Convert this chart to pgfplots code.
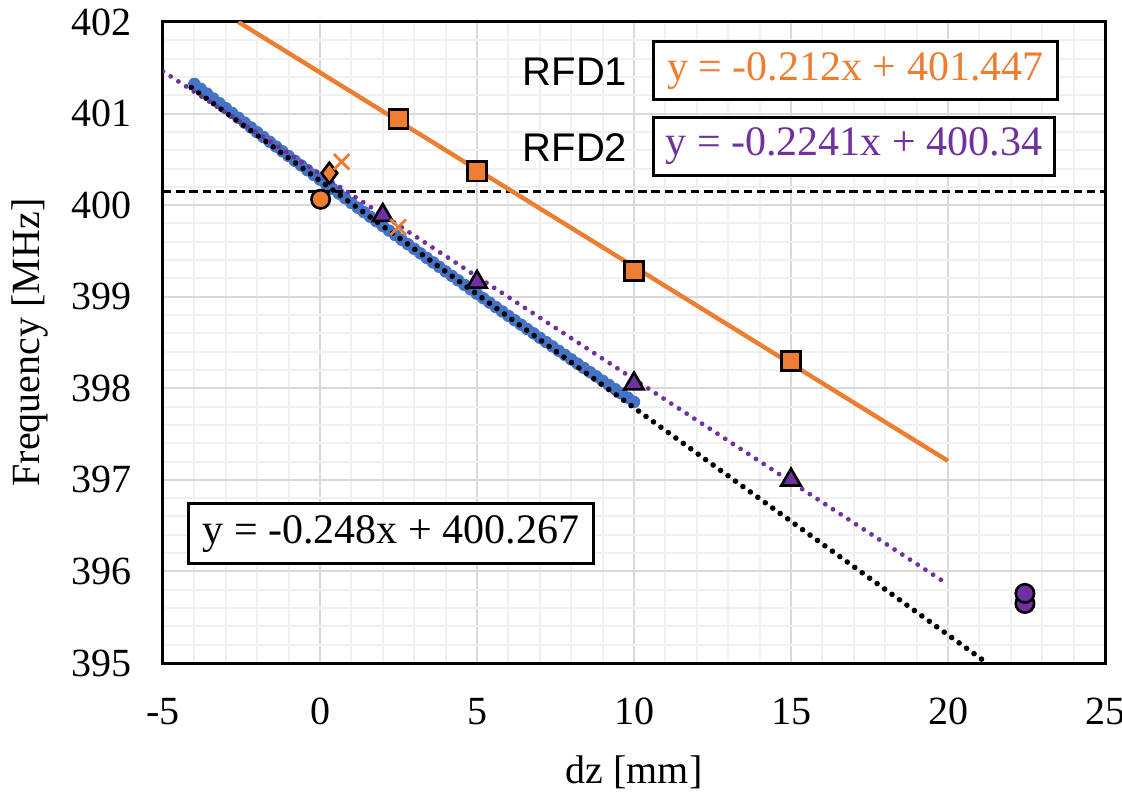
\documentclass[border=0pt]{standalone}
\usepackage{fontspec}
\setmainfont{Liberation Serif}
\newfontfamily\arial{Liberation Sans}
\usepackage{pgfplots}
\pgfplotsset{compat=1.18}
\definecolor{exorange}{HTML}{ED7D31}
\definecolor{expurple}{HTML}{7030A0}
\definecolor{exblue}{HTML}{4472C4}
\definecolor{majgrid}{HTML}{D9D9D9}
\definecolor{mingrid}{HTML}{F0F0F0}

\begin{document}
\begin{tikzpicture}
\begin{axis}[
    at={(0,0)}, anchor=south west,
    scale only axis,
    width=471pt,
    height=320.5pt,
    xmin=-5, xmax=25,
    ymin=395, ymax=402,
    xtick={-5,0,...,25},
    ytick={395,...,402},
    minor x tick num=4,
    minor y tick num=4,
    grid=both,
    major grid style={majgrid, line width=1pt},
    minor grid style={mingrid, line width=1pt},
    axis line style={black, line width=1.5pt},
    major tick length=0pt,
    minor tick length=0pt,
    clip marker paths=true,
    /pgf/number format/assume math mode=true,
    tick label style={font=\fontsize{20}{24}\selectfont},
    yticklabel style={xshift=-12pt},
    xticklabel style={yshift=-14pt},
    xlabel={dz [mm]},
    ylabel={Frequency [MHz]},
    label style={font=\fontsize{20}{24}\selectfont},
    xlabel style={at={(axis description cs:0.5,-0.17)}, anchor=center},
    ylabel style={at={(axis description cs:-0.141,0.5)}, anchor=center},
]

% measured sweep (blue)
\addplot[only marks, mark=*, mark size=2.9pt, color=exblue, mark options={draw=exblue, fill=exblue}]
coordinates {
    (-4.0,401.324) (-3.8,401.270) (-3.6,401.218) (-3.4,401.164)
    (-3.2,401.112) (-3.0,401.059) (-2.8,401.006) (-2.6,400.954)
    (-2.4,400.901) (-2.2,400.849) (-2.0,400.796) (-1.8,400.744)
    (-1.6,400.692) (-1.4,400.640) (-1.2,400.588) (-1.0,400.536)
    (-0.8,400.484) (-0.6,400.433) (-0.4,400.381) (-0.2,400.331)
    (0.0,400.279) (0.2,400.227) (0.4,400.177) (0.6,400.126)
    (0.8,400.075) (1.0,400.024) (1.2,399.973) (1.4,399.923)
    (1.6,399.873) (1.8,399.823) (2.0,399.772) (2.2,399.722)
    (2.4,399.672) (2.6,399.622) (2.8,399.573) (3.0,399.523)
    (3.2,399.473) (3.4,399.424) (3.6,399.375) (3.8,399.326)
    (4.0,399.276) (4.2,399.227) (4.4,399.179) (4.6,399.129)
    (4.8,399.081) (5.0,399.032) (5.2,398.983) (5.4,398.936)
    (5.6,398.887) (5.8,398.839) (6.0,398.791) (6.2,398.743)
    (6.4,398.695) (6.6,398.647) (6.8,398.600) (7.0,398.552)
    (7.2,398.504) (7.4,398.458) (7.6,398.410) (7.8,398.364)
    (8.0,398.316) (8.2,398.269) (8.4,398.223) (8.6,398.176)
    (8.8,398.130) (9.0,398.083) (9.2,398.036) (9.4,397.990)
    (9.6,397.944) (9.8,397.898) (10.0,397.852)
};

% target frequency
\addplot[black, line width=1.5pt, dash pattern=on 4.2pt off 2.4pt] coordinates {(-5,400.15) (25,400.15)};

% fits
\addplot[black, line width=2.8pt, line cap=round, dash pattern=on 0pt off 4.6pt] coordinates {(-4.1,401.284) (21.24,395.0)};
\addplot[expurple, line width=2.4pt, line cap=round, dash pattern=on 0pt off 4.6pt] coordinates {(-5,401.461) (20,395.858)};
\addplot[exorange, line width=2.2pt] coordinates {(-2.6,402.0) (20,397.207)};

% RFD1 points
\addplot[only marks, mark=square*, mark size=4.8pt, mark options={draw=black, fill=exorange, line width=1.3pt}]
coordinates {(2.5,400.94) (5,400.37) (10,399.28) (15,398.30)};

% RFD2 points
\addplot[only marks, mark=triangle*, mark size=5.6pt, mark options={draw=black, fill=expurple, line width=1.3pt}]
coordinates {(2,399.89) (5,399.16) (10,398.05) (15,397.00)};

% other single measurements
\addplot[only marks, mark=*, mark size=4.6pt, mark options={draw=black, fill=exorange, line width=1.3pt}]
coordinates {(0.02,400.064)};
\addplot[only marks, mark=diamond*, mark size=5.2pt, mark options={draw=black, fill=exorange, line width=1.3pt}]
coordinates {(0.30,400.35)};
\addplot[only marks, mark=x, mark size=5.5pt, mark options={draw=exorange, line width=1.4pt}]
coordinates {(0.69,400.474) (2.49,399.76)};
\addplot[only marks, mark=*, mark size=4.6pt, mark options={draw=black, fill=expurple, line width=1.3pt}]
coordinates {(22.45,395.65) (22.45,395.76)};

% fit equation labels
\node[font=\arial\fontsize{20}{24}\selectfont] at (axis cs:8.12,401.46) {RFD1};
\node[font=\arial\fontsize{20}{24}\selectfont] at (axis cs:8.12,400.625) {RFD2};
\node[draw=black, line width=1.5pt, fill=white, anchor=west, inner sep=0pt,
      minimum width=202pt, minimum height=29pt, text=exorange,
      font=\fontsize{21}{25}\selectfont] at (axis cs:10.57,401.465) {y = -0.212x + 401.447};
\node[draw=black, line width=1.5pt, fill=white, anchor=west, inner sep=0pt,
      minimum width=200.5pt, minimum height=29pt, text=expurple,
      font=\fontsize{21}{25}\selectfont] at (axis cs:10.57,400.64) {y = -0.2241x + 400.34};
\node[draw=black, line width=1.5pt, fill=white, anchor=west, inner sep=0pt,
      minimum width=202.5pt, minimum height=30pt,
      font=\fontsize{21}{25}\selectfont] at (axis cs:-4.24,396.41) {y = -0.248x + 400.267};

\end{axis}
\pgfresetboundingbox
\path[use as bounding box] (-81.5pt,-65pt) rectangle (479.5pt,331.5pt);
\end{tikzpicture}
\end{document}
